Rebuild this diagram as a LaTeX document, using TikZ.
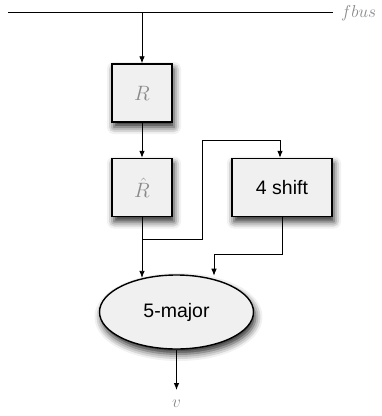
\documentclass[tikz,border=0pt]{standalone}
\usepackage{fontspec}
\setsansfont{Liberation Sans}
\usetikzlibrary{shapes.geometric,shadows.blur,arrows.meta}

\definecolor{boxfill}{HTML}{F0F0F0}
\definecolor{labelgray}{HTML}{8A8A8A}

\tikzset{
  soft shade/.style={blur shadow={shadow xshift=2pt, shadow yshift=-5pt,
      shadow blur radius=7pt, shadow opacity=85}},
  blockbox/.style={draw=black, line width=1.4pt, fill=boxfill,
    minimum width=60pt, minimum height=58pt, inner sep=0pt, soft shade},
  votebox/.style={ellipse, draw=black, line width=1.4pt, fill=boxfill,
    minimum width=154pt, minimum height=74pt, inner sep=0pt, soft shade},
  wire/.style={line width=0.8pt},
  flow/.style={wire, -{Latex[length=7pt,width=5.5pt]}},
  mathlabel/.style={text=labelgray, font=\fontsize{22}{26}\selectfont},
  sanslabel/.style={font=\sffamily\fontsize{19.5}{23}\selectfont}
}

\begin{document}
\begin{tikzpicture}[x=1pt,y=-1pt]
\useasboundingbox (0,0) rectangle (382,416);

% bus line and its label
\coordinate (busl) at (8,12);
\coordinate (busr) at (333,12);
\draw[wire] (busl) -- (busr);
\node[mathlabel, font=\fontsize{18}{21}\selectfont, anchor=west, inner sep=0pt]
  (fbus) at (341,13) {$fbus$};

% blocks
\node[blockbox, mathlabel] (r) at (142,93) {$R$};
\node[blockbox, mathlabel] (rh) at (142,187.5) {$\hat{R}$};
\node[blockbox, sanslabel, minimum width=100pt] (sh) at (282,187.5) {4 shift};
\node[votebox, sanslabel] (maj) at (176.5,312) {5-major};
\node[mathlabel, font=\fontsize{16}{19}\selectfont] (v) at (176.5,404) {$v$};

% routing points
\coordinate (j1) at (142,239);
\coordinate (j2) at (202,239);
\coordinate (j3) at (202,140);
\coordinate (j4) at (280,140);
\coordinate (k1) at (282,254);
\coordinate (k2) at (214,254);
\coordinate (vout) at (176.5,390);

% connectors
\draw[flow] (r.north |- busl) -- (r.north);
\draw[flow] (r.south) -- (rh.north);
\draw[flow] (rh.south) -- (rh.south |- maj.134);
\draw[wire] (j1) -- (j2) -- (j3) -- (j4);
\draw[flow] (j4) -- (j4 |- sh.north);
\draw[wire] (sh.south -| k1) -- (k1) -- (k2);
\draw[flow] (k2) -- (k2 |- maj.60);
\draw[flow] (maj.south) -- (vout);
\end{tikzpicture}
\end{document}
